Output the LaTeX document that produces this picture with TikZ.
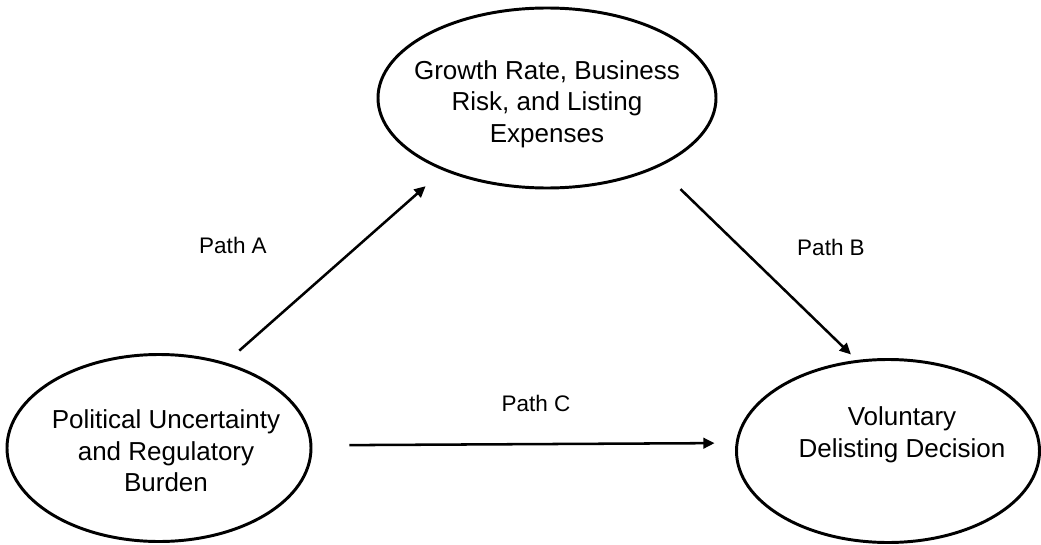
\documentclass[tikz,border=0pt]{standalone}
\usepackage{fontspec}
\setmainfont{Liberation Sans}
\usetikzlibrary{shapes.geometric,arrows.meta}

\begin{document}
\begin{tikzpicture}[
        var_node/.style={ellipse, draw=black, line width=2.1pt, inner sep=0pt},
        var_text/.style={align=center, font=\fontsize{18.5}{22.4}\selectfont},
        path_label/.style={font=\fontsize{16}{19}\selectfont},
        path_arrow/.style={-{Triangle[length=8pt,width=7.5pt]}, line width=1.8pt}
        ]
            \useasboundingbox (0,0) rectangle (26.025,-13.625);

            % variables
            \node[var_node, minimum width=8.45cm, minimum height=4.5cm]   (growth)    at (13.675,-2.45)  {};
            \node[var_node, minimum width=7.6cm,  minimum height=4.675cm] (political) at (3.975,-11.2)   {};
            \node[var_node, minimum width=7.575cm, minimum height=4.575cm] (voluntary) at (22.2,-11.275) {};

            % text
            \node[var_text] (growth_text)    at (13.675,-2.6)  {Growth Rate, Business\\Risk, and Listing\\Expenses};
            \node[var_text] (political_text) at (4.15,-11.27)  {Political Uncertainty\\and Regulatory\\Burden};
            \node[var_text] (voluntary_text) at (22.55,-10.87) {Voluntary\\Delisting Decision};

            % paths
            \draw[path_arrow, shorten <=0.45cm, shorten >=0.59cm] (political.52) -- (growth.215);
            \draw[path_arrow, shorten <=0.78cm, shorten >=0.2cm]  (growth.328)   -- (voluntary.109);
            \draw[path_arrow, shorten <=0.925cm, shorten >=0.525cm] (political.1.5) -- (voluntary.177.4);

            % labels
            \node[path_label] (label_a) at (5.825,-6.125) {Path A};
            \node[path_label] (label_b) at (20.775,-6.175) {Path B};
            \node[path_label] (label_c) at (13.4,-10.075) {Path C};
        \end{tikzpicture}
\end{document}
